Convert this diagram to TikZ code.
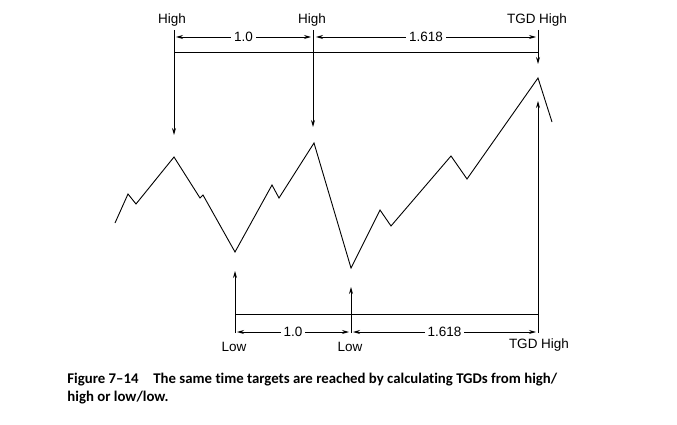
\documentclass[tikz,border=0pt]{standalone}
\usepackage{fontspec}
\usetikzlibrary{arrows.meta}
\setmainfont{Liberation Sans}
\newfontfamily\capfont[Ligatures=NoCommon]{Carlito}

\begin{document}
\begin{tikzpicture}[x=1pt, y=-1pt, line width=0.9pt,
		lbl/.style={font=\fontsize{13.5}{15}\selectfont, inner sep=1pt},
		num/.style={font=\fontsize{13.5}{15}\selectfont, fill=white, inner sep=3pt},
		dim/.style={<->, >={Stealth[length=7pt,width=4pt]}},
		pointer/.style={->, >={Stealth[length=7pt,width=4pt]}}]
	\useasboundingbox (0,0) rectangle (677,425);
	% labels top and bottom
	\node[lbl] (hiA) at (172,20) {High};
	\node[lbl] (hiB) at (312,20) {High};
	\node[lbl] (tgdT) at (537,20) {TGD High};
	\node[lbl] (loA) at (234,347) {Low};
	\node[lbl] (loB) at (350,347) {Low};
	\node[lbl] (tgdB) at (539,345) {TGD High};
	% price swings
	\draw (115,223) -- (128,194) -- (136,204) -- (174,157) -- (200,198) -- (203,195)
		-- (235,252) -- (272,185) -- (279,198) -- (314,143) -- (351,268) -- (380,210)
		-- (391,226) -- (451,156) -- (467,179) -- (538,78) -- (552,122);
	% arrow ends
	\coordinate (tipA) at (174,135);
	\coordinate (tipB) at (313,127);
	\coordinate (tipC) at (538,64);
	\coordinate (tipD) at (235,271);
	\coordinate (tipE) at (351,287);
	\coordinate (tipF) at (538,101);
	\draw[pointer] (174,30) -- (tipA);
	\draw[pointer] (313,30) -- (tipB);
	\draw[pointer] (538,30) -- (tipC);
	\draw[pointer] (235,333) -- (tipD);
	\draw[pointer] (351,333) -- (tipE);
	\draw[pointer] (538,333) -- (tipF);
	% time spans
	\draw (174,52) -- (538,52);
	\draw (235,314) -- (538,314);
	\draw[dim] (176,37) -- node[num] (oneT) {1.0} (311,37);
	\draw[dim] (316,37) -- node[num] (phiT) {1.618} (536,37);
	\draw[dim] (237,332) -- node[num] (oneB) {1.0} (349,332);
	\draw[dim] (353,332) -- node[num] (phiB) {1.618} (536,332);
	% caption
	\node[anchor=north west, align=left, inner sep=0pt,
		font=\capfont\bfseries\fontsize{14.8}{18}\selectfont] (cap) at (67,373)
		{Figure 7–14\hspace{1em}The same time targets are reached by calculating TGDs from high/\\
		high or low/low.};
\end{tikzpicture}
\end{document}
